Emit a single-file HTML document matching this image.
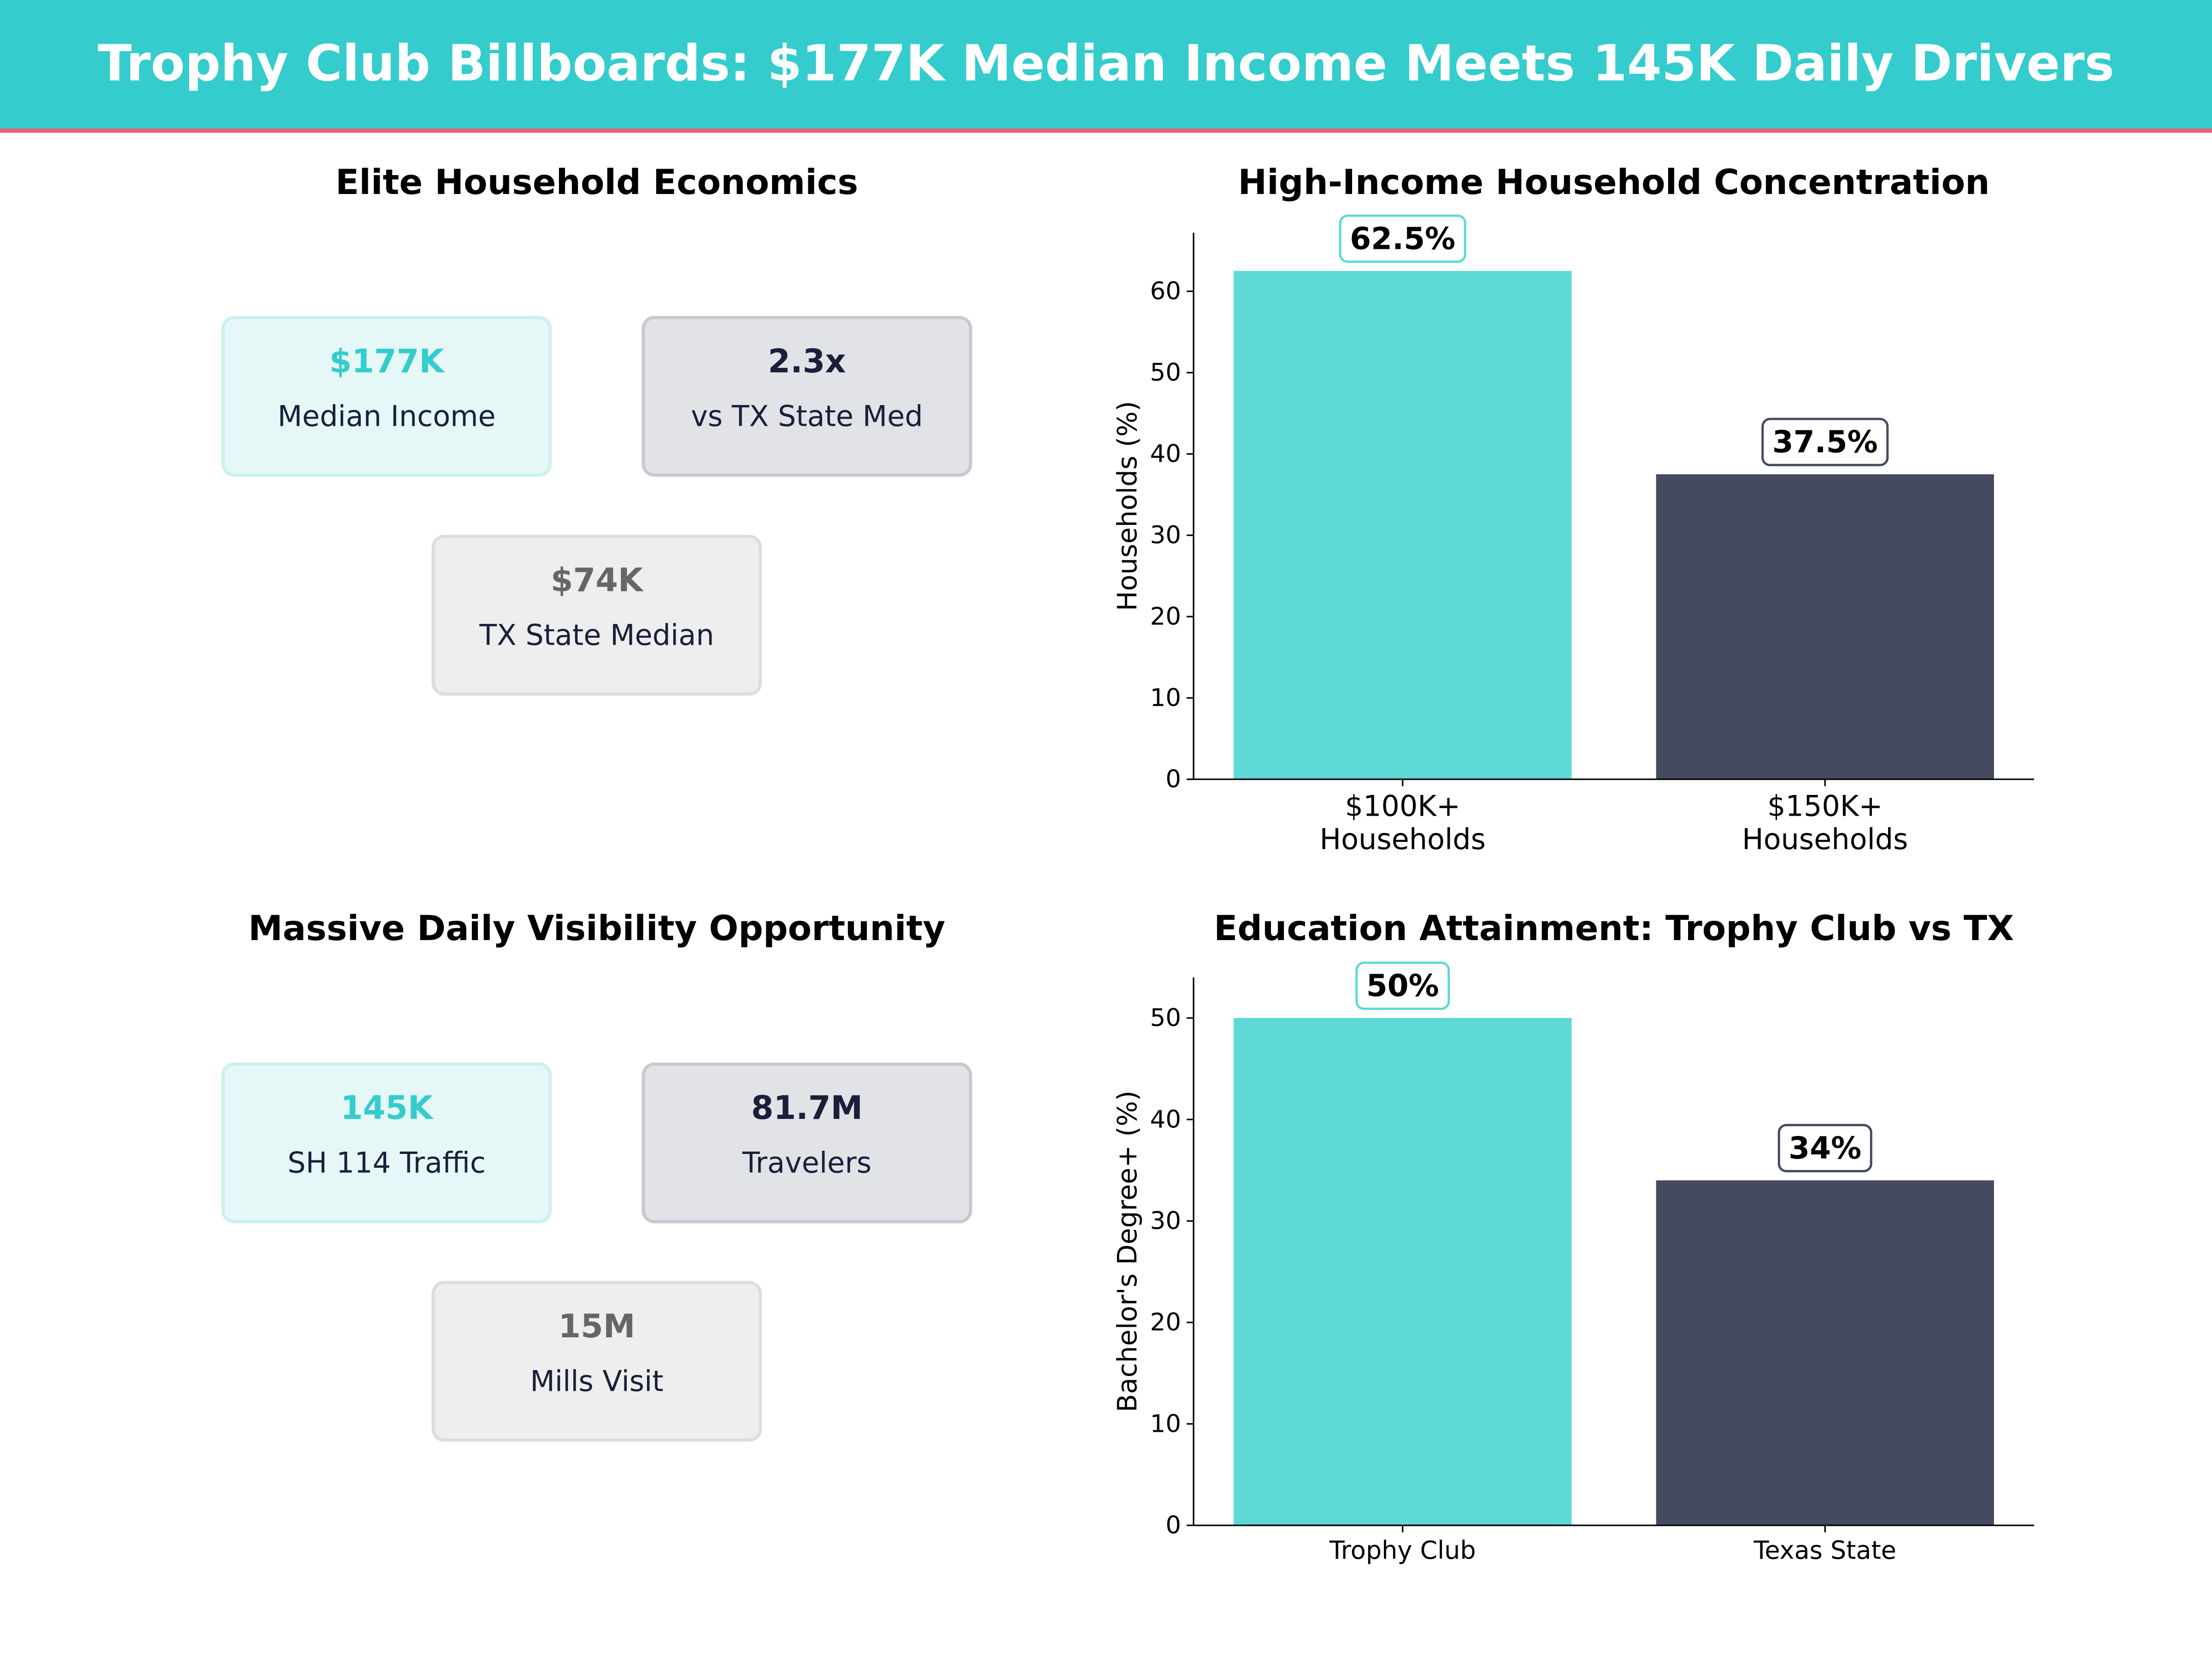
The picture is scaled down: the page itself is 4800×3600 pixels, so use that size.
<!DOCTYPE html>
<html><head><meta charset="utf-8"><style>
html,body{margin:0;padding:0;background:#fff;}
svg{display:block;font-family:"DejaVu Sans","Liberation Sans",sans-serif;}
</style></head><body>
<svg id="fig" width="4800" height="3600" viewBox="0 0 4800 3600" xmlns="http://www.w3.org/2000/svg">
<rect x="0" y="0" width="4800" height="3600" fill="#fff"/>
<rect x="0" y="0" width="4800" height="281" fill="#34cccc"/>
<rect x="0" y="279" width="4800" height="9" fill="#ee5c78"/>
<text x="2400" y="138" text-anchor="middle" dominant-baseline="central" font-size="108" font-weight="bold" fill="#fff">Trophy Club Billboards: $177K Median Income Meets 145K Daily Drivers</text>

<text x="1295" y="395" text-anchor="middle" dominant-baseline="central" font-size="75" font-weight="bold" fill="#000">Elite Household Economics</text>
<text x="1295" y="2014" text-anchor="middle" dominant-baseline="central" font-size="75" font-weight="bold" fill="#000">Massive Daily Visibility Opportunity</text>

<g id="cards"></g>
<g id="chart1"></g>
<g id="chart2"></g>
</svg>
<script>
const NS="http://www.w3.org/2000/svg";
// Chart 1 data
const incomeCategories=[["$100K+","Households"],["$150K+","Households"]];
const incomeValues=[62.5,37.5];
const incomeLabels=["62.5%","37.5%"];
const incomeTicks=[0,10,20,30,40,50,60];
// Chart 2 data
const eduCategories=[["Trophy Club"],["Texas State"]];
const eduValues=[50,34];
const eduLabels=["50%","34%"];
const eduTicks=[0,10,20,30,40,50];
const barColors=["#5dd8d6","#454a5f"];
const boxEdges=["#5dd8d6","#454a5f"];
// Cards
const cardValues=["$177K","2.3x","$74K","145K","81.7M","15M"];
const cardTexts=["Median Income","vs TX State Med","TX State Median","SH 114 Traffic","Travelers","Mills Visit"];
const cardNames=["median-income-card","ratio-card","tx-median-card","traffic-card","travelers-card","mills-card"];

function mk(tag,attrs,parent,text){const e=document.createElementNS(NS,tag);for(const k in attrs)e.setAttribute(k,attrs[k]);if(text!==undefined)e.textContent=text;parent.appendChild(e);return e;}

const styles=[{bg:"#e5f7f7",bd:"#ccf0f0",vc:"#34cccc"},{bg:"#e2e3e7",bd:"#c8c9d0",vc:"#1a1f3a"},{bg:"#eeeeee",bd:"#dddddd",vc:"#666666"}];
const centers=[[839,860],[1751,860],[1295,1335],[839,2480],[1751,2480],[1295,2954]];
const cg=document.getElementById('cards');
centers.forEach((c,i)=>{
  const s=styles[i%3];
  const g=mk('g',{},cg);
  
  
  mk('rect',{x:c[0]-355,y:c[1]-171,width:710,height:342,rx:24,fill:s.bg,stroke:s.bd,'stroke-width':7},g);
  const v=mk('text',{x:c[0],y:c[1]-76,'text-anchor':'middle','dominant-baseline':'central','font-size':70,'font-weight':'bold',fill:s.vc},g,cardValues[i]);
  
  
  const t=mk('text',{x:c[0],y:c[1]+43,'text-anchor':'middle','dominant-baseline':'central','font-size':62,fill:'#1a1f3a'},g,cardTexts[i]);
  
  
});

function drawChart(gid,cfg){
  const g=document.getElementById(gid);
  const L=2590,R=4414,T=cfg.top,B=cfg.bottom;
  const xs=i=>L+(i+0.495)/1.99*(R-L);
  const ys=v=>B-v/cfg.ymax*(B-T);
  const unit=(R-L)/1.99;
  const t=mk('text',{x:3502,y:cfg.titleY,'text-anchor':'middle','dominant-baseline':'central','font-size':75,'font-weight':'bold',fill:'#000'},g,cfg.title);
  
  
  cfg.values.forEach((v,i)=>{
    const r=mk('rect',{x:xs(i)-0.4*unit,y:ys(v),width:0.8*unit,height:B-ys(v),fill:barColors[i]},g);
    
    
    const lg=mk('g',{},g);
    
    
    const cy=ys(v)-70;
    const box=mk('rect',{x:0,y:cy-50,width:10,height:100,rx:16,fill:'#fff',stroke:boxEdges[i],'stroke-width':5},lg);
    const tx=mk('text',{x:xs(i),y:cy,'text-anchor':'middle','dominant-baseline':'central','font-size':66,'font-weight':'bold',fill:'#000'},lg,cfg.labels[i]);
    const w=tx.getComputedTextLength();
    box.setAttribute('x',xs(i)-w/2-21);box.setAttribute('width',w+42);
    mk('line',{x1:xs(i),x2:xs(i),y1:B,y2:B+15,stroke:'#000','stroke-width':3.3},g);
    cfg.cats[i].forEach((line,j)=>{
      const xl=mk('text',{x:xs(i),y:B+cfg.xlabY+j*cfg.xlabGap,'text-anchor':'middle','dominant-baseline':'central','font-size':cfg.xfs,fill:'#000'},g,line);
      
      
    });
  });
  cfg.ticks.forEach(tv=>{
    mk('line',{x1:L-15,x2:L,y1:ys(tv),y2:ys(tv),stroke:'#000','stroke-width':3.3},g);
    const yl=mk('text',{x:L-27,y:ys(tv),'text-anchor':'end','dominant-baseline':'central','font-size':53,fill:'#000'},g,String(tv));
    
    
  });
  const ax=mk('path',{d:`M${L} ${T} V${B} H${R}`,fill:'none',stroke:'#000','stroke-width':3.3},g);
  
  
  const cy=(T+B)/2;
  const yt=mk('text',{x:2446,y:cy,'text-anchor':'middle','dominant-baseline':'central','font-size':58,fill:'#000',transform:`rotate(-90 2446 ${cy})`},g,cfg.ylabel);
  
  
}
drawChart('chart1',{top:505,bottom:1691,ymax:67.2,values:incomeValues,labels:incomeLabels,cats:incomeCategories,ticks:incomeTicks,title:'High-Income Household Concentration',titleY:395,ylabel:'Households (%)',xfs:62,xlabY:58,xlabGap:72});
drawChart('chart2',{top:2121,bottom:3310,ymax:54,values:eduValues,labels:eduLabels,cats:eduCategories,ticks:eduTicks,title:'Education Attainment: Trophy Club vs TX',titleY:2014,ylabel:"Bachelor's Degree+ (%)",xfs:54,xlabY:54,xlabGap:60});
</script>
</body></html>
